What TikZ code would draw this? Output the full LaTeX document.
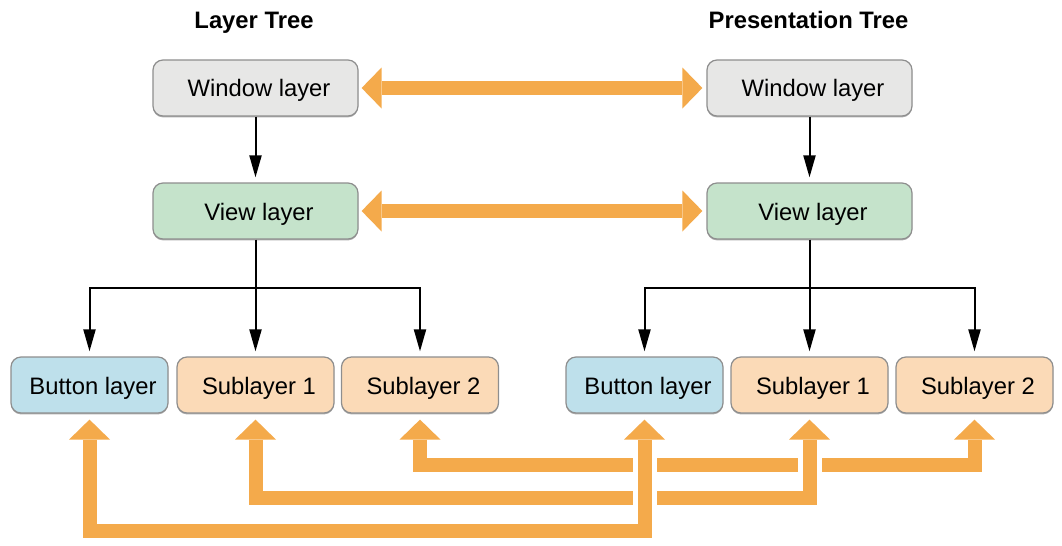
\documentclass[tikz,border=0pt]{standalone}
\usepackage{fontspec}
\setmainfont{Liberation Sans}
\usetikzlibrary{arrows.meta,shadows}

\definecolor{wingray}{HTML}{E7E7E6}
\definecolor{viewgreen}{HTML}{C5E3CB}
\definecolor{btnblue}{HTML}{BEE0EB}
\definecolor{subpeach}{HTML}{FBDAB7}
\definecolor{boxborder}{HTML}{8E8E8E}
\definecolor{syncorange}{HTML}{F4AA4B}

\begin{document}
\begin{tikzpicture}[x=0.5pt, y=-0.5pt,
    every node/.style={font=\fontsize{11.9}{14}\selectfont},
    title/.style={font=\fontsize{11.9}{14}\selectfont\bfseries, anchor=base},
    layerbox/.style={draw=boxborder, line width=0.6pt, rounded corners=5pt,
        minimum height=28pt, inner sep=0pt, text height=11.5pt, text depth=2.5pt,
        execute at begin node={\hspace*{3.5pt}},
        drop shadow={shadow xshift=0pt, shadow yshift=-0.7pt, opacity=0.45, fill=black!70}},
    bigbox/.style={layerbox, minimum width=102.5pt},
    smallbox/.style={layerbox, minimum width=78.5pt},
    tree/.style={line width=1pt, shorten >=2.5pt, -{Triangle[length=11pt,width=6pt]}},
    sync/.style={draw=syncorange, line width=7pt, line join=miter,
        {Triangle[length=10pt,width=20.5pt,line width=0pt]}-{Triangle[length=10pt,width=20.5pt,line width=0pt]}},
    gapline/.style={draw=white, line width=12pt, line join=miter}]
    \useasboundingbox (0,0) rectangle (1062,546);

    % Titles
    \node[title] (ltitle) at (254,28) {Layer Tree};
    \node[title] (rtitle) at (808.5,28) {Presentation Tree};

    % Layer tree
    \node[bigbox, fill=wingray] (lwin) at (255.5,88) {Window layer};
    \node[bigbox, fill=viewgreen] (lview) at (255.5,211) {View layer};
    \node[smallbox, fill=btnblue] (lbtn) at (89.5,385) {Button layer};
    \node[smallbox, fill=subpeach] (lsub1) at (255.5,385) {Sublayer 1};
    \node[smallbox, fill=subpeach] (lsub2) at (420,385) {Sublayer 2};

    % Presentation tree
    \node[bigbox, fill=wingray] (rwin) at (809.5,88) {Window layer};
    \node[bigbox, fill=viewgreen] (rview) at (809.5,211) {View layer};
    \node[smallbox, fill=btnblue] (rbtn) at (644.5,385) {Button layer};
    \node[smallbox, fill=subpeach] (rsub1) at (809.5,385) {Sublayer 1};
    \node[smallbox, fill=subpeach] (rsub2) at (974.5,385) {Sublayer 2};

    % Tree arrows
    \coordinate (lfork) at ([yshift=-24pt]lview.south);
    \coordinate (rfork) at ([yshift=-24pt]rview.south);
    \draw[tree] (lwin) -- (lview);
    \draw[tree] (lview) -- (lsub1);
    \draw[tree] (lfork) -| (lbtn);
    \draw[tree] (lfork) -| (lsub2);
    \draw[tree] (rwin) -- (rview);
    \draw[tree] (rview) -- (rsub1);
    \draw[tree] (rfork) -| (rbtn);
    \draw[tree] (rfork) -| (rsub2);

    % Links between the trees
    \draw[sync, shorten <=1.5pt, shorten >=2pt] (lwin) -- (rwin);
    \draw[sync, shorten <=1.5pt, shorten >=2pt] (lview) -- (rview);

    \draw[sync, shorten <=3pt, shorten >=3pt] (lsub2.south) -- ++(0,51.5) -| (rsub2.south);
    \draw[gapline, shorten <=3pt, shorten >=3pt] (lsub1.south) -- ++(0,84.5) -| (rsub1.south);
    \draw[sync, shorten <=3pt, shorten >=3pt] (lsub1.south) -- ++(0,84.5) -| (rsub1.south);
    \draw[gapline, shorten <=3pt, shorten >=3pt] (rbtn.south) -- ++(0,117) -| (lbtn.south);
    \draw[sync, shorten <=3pt, shorten >=3pt] (rbtn.south) -- ++(0,117) -| (lbtn.south);
\end{tikzpicture}
\end{document}
